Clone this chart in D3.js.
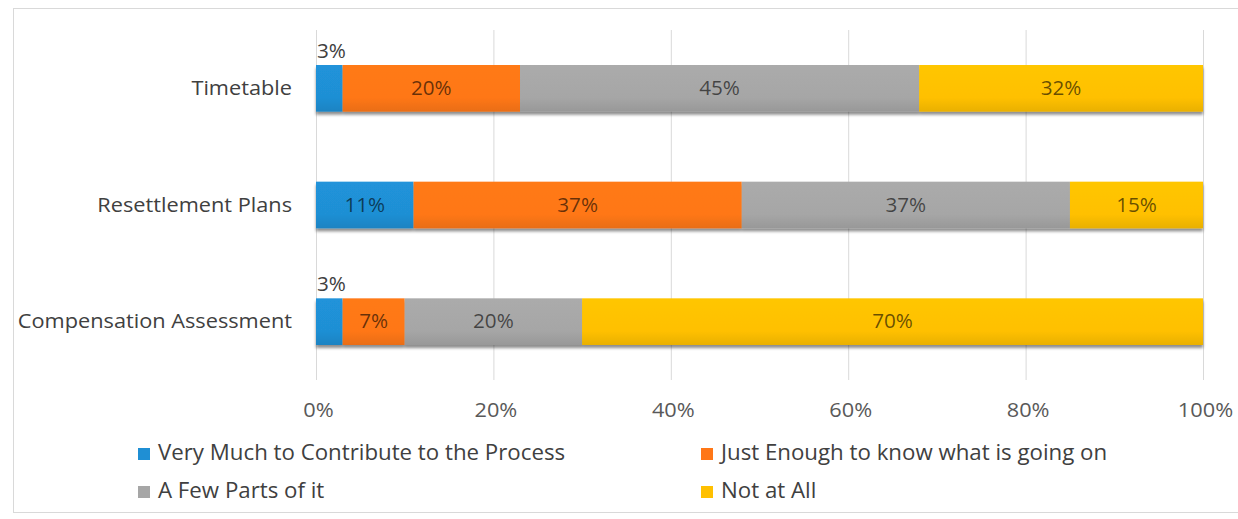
<!DOCTYPE html>
<html>
<head>
<meta charset="utf-8">
<script src="https://cdn.jsdelivr.net/npm/d3@7"></script>
<style>
  html, body { margin: 0; padding: 0; background: #ffffff; }
  svg { display: block; }
  text { font-family: "Open Sans", "Liberation Sans", sans-serif; }
</style>
</head>
<body>
<svg id="chart" width="1238" height="519"></svg>
<script>
// ---- data ----
const categories = ["Timetable", "Resettlement Plans", "Compensation Assessment"];
const seriesNames = [
  "Very Much to Contribute to the Process",
  "Just Enough to know what is going on",
  "A Few Parts of it",
  "Not at All"
];
const veryMuch   = [3, 11, 3];
const justEnough = [20, 37, 7];
const fewParts   = [45, 37, 20];
const notAtAll   = [32, 15, 70];
const tickValues = [0, 20, 40, 60, 80, 100];
const tickLabels = ["0%", "20%", "40%", "60%", "80%", "100%"];

const seriesValues = [veryMuch, justEnough, fewParts, notAtAll];
const colors = ["#1f8fd4", "#ff7717", "#a6a6a6", "#ffc000"];

// ---- layout ----
const svg = d3.select("#chart");
const plot = { left: 316, right: 1203, top: 30, bottom: 380 };
const stretch = 1.06; // horizontal text stretch to mimic reference glyph widths

function stretchText(sel) {
  sel.each(function () {
    const n = this;
    const w = n.getComputedTextLength();
    n.setAttribute("textLength", (w * stretch).toFixed(1));
    n.setAttribute("lengthAdjust", "spacingAndGlyphs");
  });
}

// outer border
svg.append("rect")
  .attr("x", 13.5).attr("y", 8.5)
  .attr("width", 1232).attr("height", 504)
  .attr("fill", "#ffffff")
  .attr("stroke", "#d9d9d9").attr("stroke-width", 1);

// shadow filter
const defs = svg.append("defs");
const f = defs.append("filter").attr("id", "shadow")
  .attr("x", "-5%").attr("y", "-20%").attr("width", "110%").attr("height", "160%");
f.append("feGaussianBlur").attr("in", "SourceAlpha").attr("stdDeviation", 1.6).attr("result", "b");
f.append("feOffset").attr("in", "b").attr("dx", 0).attr("dy", 2.5).attr("result", "o");
f.append("feComponentTransfer").attr("in", "o").attr("result", "o2")
  .append("feFuncA").attr("type", "linear").attr("slope", 0.45);
const m = f.append("feMerge");
m.append("feMergeNode").attr("in", "o2");
m.append("feMergeNode").attr("in", "SourceGraphic");

// vertical gradients per series (slight Excel-like bevel)
colors.forEach((c, i) => {
  const g = defs.append("linearGradient").attr("id", "grad" + i)
    .attr("x1", 0).attr("y1", 0).attr("x2", 0).attr("y2", 1);
  const base = d3.color(c);
  g.append("stop").attr("offset", "0%").attr("stop-color", base.brighter(0.08));
  g.append("stop").attr("offset", "70%").attr("stop-color", base);
  g.append("stop").attr("offset", "100%").attr("stop-color", base.darker(0.25));
});

const x = d3.scaleLinear().domain([0, 100]).range([plot.left, plot.right]);
const y = d3.scaleBand().domain(categories)
  .range([plot.top, plot.bottom]).paddingInner(0.6).paddingOuter(0.3);

// gridlines
svg.append("g").selectAll("line").data(tickValues).join("line")
  .attr("x1", d => x(d) + 0.5).attr("x2", d => x(d) + 0.5)
  .attr("y1", plot.top).attr("y2", plot.bottom)
  .attr("stroke", "#d9d9d9").attr("stroke-width", 1);

// x axis tick labels
const xAxis = d3.axisBottom(x).tickValues(tickValues)
  .tickFormat((d, i) => tickLabels[i]).tickSize(0).tickPadding(0);
const gx = svg.append("g").attr("transform", `translate(2, ${plot.bottom + 22})`).call(xAxis);
gx.select(".domain").remove();
gx.selectAll("text").attr("font-size", 20.5).attr("fill", "#595959")
  .attr("font-family", "'Open Sans', sans-serif").call(stretchText);

// y axis category labels
const yAxis = d3.axisLeft(y).tickSize(0).tickPadding(0);
const gy = svg.append("g").attr("transform", `translate(${plot.left - 24}, 0)`).call(yAxis);
gy.select(".domain").remove();
gy.selectAll("text").attr("font-size", 20.5).attr("fill", "#404040")
  .attr("font-family", "'Open Sans', sans-serif").call(stretchText);

// stacked data
const rows = categories.map((c, ci) => {
  const r = { category: c };
  seriesNames.forEach((s, si) => r[s] = seriesValues[si][ci]);
  return r;
});
const stack = d3.stack().keys(seriesNames)(rows);

const barsG = svg.append("g").attr("filter", "url(#shadow)");
stack.forEach((layer, si) => {
  barsG.append("g").selectAll("rect").data(layer).join("rect")
    .attr("x", d => x(d[0]))
    .attr("width", d => x(d[1]) - x(d[0]))
    .attr("y", d => y(d.data.category))
    .attr("height", y.bandwidth())
    .attr("fill", `url(#grad${si})`);
});

// data labels
const labelsG = svg.append("g");
stack.forEach((layer, si) => {
  layer.forEach(d => {
    const v = d[1] - d[0];
    const small = (x(d[1]) - x(d[0])) < 30;
    let t;
    if (small) {
      t = labelsG.append("text")
        .attr("x", x(d[0]) + 1)
        .attr("y", y(d.data.category) - 7)
        .attr("font-size", 19.5).attr("fill", "#404040")
        .text(v + "%");
    } else {
      t = labelsG.append("text")
        .attr("x", (x(d[0]) + x(d[1])) / 2)
        .attr("y", y(d.data.category) + y.bandwidth() / 2)
        .attr("dy", "0.35em")
        .attr("text-anchor", "middle")
        .attr("font-size", 19.5).attr("fill", "#000").attr("fill-opacity", 0.6)
        .text(v + "%");
    }
    t.call(stretchText);
  });
});

// legend
const legendPos = [
  { x: 138, y: 453 }, { x: 701, y: 453 },
  { x: 138, y: 491 }, { x: 701, y: 491 }
];
const lg = svg.append("g");
seriesNames.forEach((s, i) => {
  const p = legendPos[i];
  lg.append("rect").attr("x", p.x).attr("y", p.y - 5).attr("width", 12).attr("height", 12)
    .attr("fill", colors[i]);
  lg.append("text").attr("x", p.x + 20).attr("y", p.y).attr("dy", "0.35em")
    .attr("font-size", 21).attr("fill", "#404040").text(s).call(stretchText);
});
</script>
</body>
</html>
